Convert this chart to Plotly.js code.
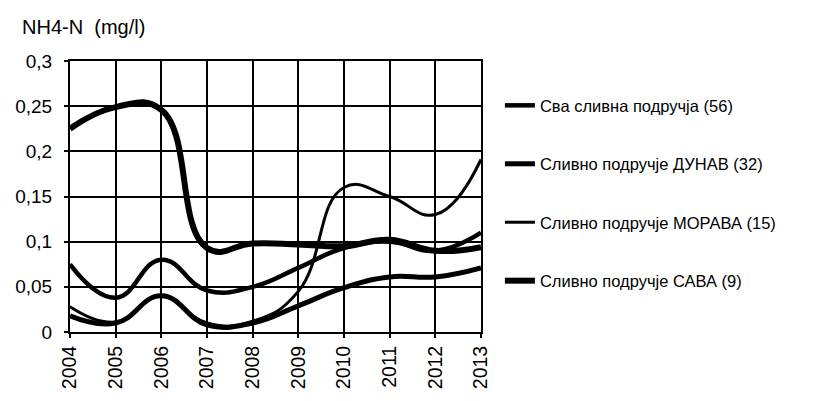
<!DOCTYPE html>
<html>
<head>
<meta charset="utf-8">
<script src="https://cdn.plot.ly/plotly-3.0.1.min.js"></script>
<style>html,body{margin:0;padding:0;background:#fff;}#chart{width:821px;height:401px;}</style>
</head>
<body>
<div id="chart"></div>
<script>
const years = [2004, 2005, 2006, 2007, 2008, 2009, 2010, 2011, 2012, 2013];
const seriesNames = [
  "Сва сливна подручја (56)",
  "Сливно подручје ДУНАВ (32)",
  "Сливно подручје МОРАВА (15)",
  "Сливно подручје САВА (9)"
];
const allBasins = [0.075, 0.038, 0.080, 0.046, 0.050, 0.071, 0.093, 0.100, 0.090, 0.110];
const dunav     = [0.018, 0.010, 0.040, 0.008, 0.010, 0.029, 0.049, 0.061, 0.061, 0.071];
const morava    = [0.028, 0.011, 0.040, 0.010, 0.012, 0.045, 0.160, 0.150, 0.130, 0.191];
const sava      = [0.225, 0.249, 0.246, 0.093, 0.098, 0.097, 0.095, 0.102, 0.090, 0.094];
const yTicks = [0, 0.05, 0.1, 0.15, 0.2, 0.25, 0.3];
const yTickText = ["0", "0,05", "0,1", "0,15", "0,2", "0,25", "0,3"];

const seriesData = [allBasins, dunav, morava, sava];
const widths = [4.5, 5, 3, 6];
const traces = seriesData.map((vals, i) => ({
  x: years, y: vals, type: 'scatter', mode: 'lines',
  name: seriesNames[i], legendgroup: 'g' + i,
  line: {color: '#000', width: widths[i], shape: 'spline', smoothing: 1.3}
}));

const layout = {
  width: 821, height: 401,
  margin: {l: 70, r: 340, t: 61, b: 69},
  paper_bgcolor: '#fff', plot_bgcolor: '#fff',
  font: {family: 'Liberation Sans, Arial, sans-serif', color: '#000'},
  title: {text: 'NH4-N\u00a0\u00a0(mg/l)', x: 22/821, xanchor: 'left', y: 1 - 27/401, yanchor: 'middle',
          font: {size: 20, color: '#000'}},
  showlegend: true,
  legend: {x: 1.046, xanchor: 'left', y: 0.9, yanchor: 'top', tracegroupgap: 34,
           font: {size: 16.5, color: '#000'}, bgcolor: 'rgba(0,0,0,0)'},
  xaxis: {range: [2004, 2013], tickmode: 'array', tickvals: years, ticktext: years.map(String),
          tickangle: -90, showgrid: true, gridcolor: '#000', gridwidth: 2,
          showline: true, mirror: true, linecolor: '#000', linewidth: 2,
          ticks: 'outside', ticklen: 4, tickcolor: '#000', tickwidth: 2, zeroline: false,
          tickfont: {size: 19.5, color: '#000'}},
  yaxis: {range: [0, 0.3], tickmode: 'array', tickvals: yTicks, ticktext: yTickText,
          showgrid: true, gridcolor: '#000', gridwidth: 2,
          showline: true, mirror: true, linecolor: '#000', linewidth: 2,
          ticks: 'outside', ticklen: 4, tickcolor: '#000', tickwidth: 2, zeroline: false,
          ticklabelstandoff: 8,
          tickfont: {size: 19, color: '#000'}}
};
Plotly.newPlot('chart', traces, layout, {staticPlot: true});
</script>
</body>
</html>
